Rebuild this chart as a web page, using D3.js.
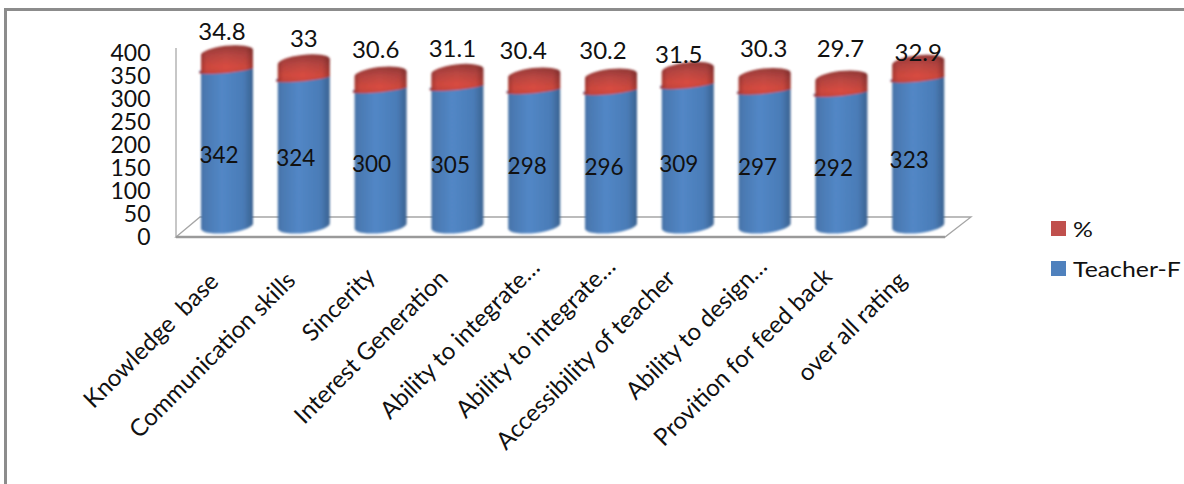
<!DOCTYPE html>
<html><head><meta charset="utf-8"><style>html,body{margin:0;background:#fff}svg{display:block}text{font-family:Lato,"Open Sans",sans-serif;fill:#111;white-space:pre}</style>
<script src="https://cdnjs.cloudflare.com/ajax/libs/d3/7.8.5/d3.min.js"></script></head><body><script>
const categories=["Knowledge  base","Communication skills","Sincerity","Interest Generation","Ability to integrate…","Ability to integrate…","Accessibility of teacher","Ability to design…","Provition for feed back","over all rating"];
const teacherF=[342,324,300,305,298,296,309,297,292,323];
const percent=[34.8,33,30.6,31.1,30.4,30.2,31.5,30.3,29.7,32.9];
const yTicks=[0,50,100,150,200,250,300,350,400];
const legendItems=["%","Teacher-F"];
const colors={blue:"#4f81bd",red:"#c0504d"};

const W=1184,H=484;
const svg=d3.select("body").append("svg").attr("width",W).attr("height",H);
const defs=svg.append("defs");
function grad(id,stops,vertical){const g=defs.append("linearGradient").attr("id",id);
  if(vertical)g.attr("x2",0).attr("y2",1);
  stops.forEach(([o,c,a])=>g.append("stop").attr("offset",o).attr("stop-color",c).attr("stop-opacity",a===undefined?1:a));}
grad("gb",[[0,"#3f6c9f"],[.1,"#4a78b0"],[.42,"#5287c6"],[.82,"#4a7cb7"],[1,"#3a6290"]]);
grad("gr",[[0,"#963a37"],[.35,"#bb4743"],[.75,"#d94c41"],[1,"#c9473f"]],true);
grad("edge",[[0,"#401010",.4],[.14,"#401010",.08],[.5,"#401010",0],[.86,"#401010",.08],[1,"#401010",.4]]);
defs.append("filter").attr("id","soft").append("feGaussianBlur").attr("stdDeviation",.8);

// frame
svg.append("path").attr("d",`M5.5 ${H}V9.5H${W}`).attr("fill","none").attr("stroke","#8c8c8c").attr("stroke-width",3);

const x=d3.scaleBand().domain(d3.range(categories.length)).range([188.6,956.6]);
const cx=i=>x(i)+x.bandwidth()/2;
const baseY=226, scale=0.46;
const y=d3.scaleLinear().domain([0,400]).range([baseY,baseY-400*scale]);
const axisY=d3.scaleLinear().domain([0,400]).range([237,53]);

// floor + wall axis
svg.append("path").attr("d","M176 237L200 217H971L945 237Z").attr("fill","#fff").attr("stroke","#a6a6a6").attr("stroke-width",1.3);
svg.append("path").attr("d","M176 237V48").attr("stroke","#b5b5b5").attr("stroke-width",1.5);
svg.append("path").attr("d","M176 237H945").attr("stroke","#9a9a9a").attr("stroke-width",2.4);

// y axis labels via d3 axis
const ax=svg.append("g").attr("transform","translate(150.5,0)").call(d3.axisLeft(axisY).tickValues(yTicks).tickSize(0).tickPadding(0));
ax.select(".domain").remove();
ax.selectAll("text").attr("font-size",23).style("font-family","Lato,sans-serif").attr("fill","#111");

// cylinders
const rx=26;
function cyl(c,y0,y1,ry0,t0,ry1,t1,sweepTop){
  const l=c-rx,r=c+rx;
  return `M${l} ${y1+t1}A${rx} ${ry1} -6 0 ${sweepTop} ${r} ${y1-t1}L${r} ${y0-t0}A${rx} ${ry0} -6 0 1 ${l} ${y0+t0}Z`;
}
const bars=svg.append("g").attr("filter","url(#soft)").selectAll("g").data(categories).join("g");
bars.append("path").attr("d",(d,i)=>cyl(cx(i),y(0),y(teacherF[i]),7,3,3,1.5,0)).attr("fill","url(#gb)");
const redPath=(d,i)=>cyl(cx(i),y(teacherF[i])+1,y(teacherF[i]+percent[i]),3,1.5,7,3,1);
bars.append("path").attr("d",redPath).attr("fill","url(#gr)");
bars.append("path").attr("d",redPath).attr("fill","url(#edge)");

// value labels
const topNudge=[[-5,-21],[0,-23],[-5,-24],[-5,-23],[-11,-24],[-8,-25],[-9,-15],[-1,-27],[-1,-29],[0,-10]];
const midNudge=[[-8,8],[-8,7],[-9,7],[-7,9],[-7,9],[-7,9],[-9,9],[-7,9],[-8,9],[-9,8]];
svg.append("g").selectAll("text").data(teacherF).join("text")
  .attr("x",(d,i)=>cx(i)+midNudge[i][0]).attr("y",(d,i)=>y(d/2)+midNudge[i][1])
  .attr("dy",".35em").attr("text-anchor","middle").attr("font-size",22.5).text(d=>d);
svg.append("g").selectAll("text").data(percent).join("text")
  .attr("x",(d,i)=>cx(i)+topNudge[i][0]).attr("y",(d,i)=>y(teacherF[i]+d)+topNudge[i][1])
  .attr("dy",".35em").attr("text-anchor","middle").attr("font-size",24).text(d=>d);

// category labels
const catDx=[-7,-7,-4,-8,7,6,-11,4,-8,-10];
const catY=[283,282,278,280,269,268,280,268,278,282];
svg.append("g").selectAll("text").data(categories).join("text")
  .attr("text-anchor","end").attr("font-size",24)
  .attr("transform",(d,i)=>`translate(${cx(i)+catDx[i]},${catY[i]}) rotate(-45)`).text(d=>d);

// legend
const lg=svg.append("g").selectAll("g").data(legendItems).join("g").attr("transform",(d,i)=>`translate(1051,${221+i*40})`);
lg.append("rect").attr("width",15).attr("height",15).attr("fill",(d,i)=>i?colors.blue:colors.red);
lg.append("text").attr("transform","translate(22,8) scale(1.13,1)").attr("dy",".35em").attr("font-size",22).text(d=>d);
</script></body></html>
